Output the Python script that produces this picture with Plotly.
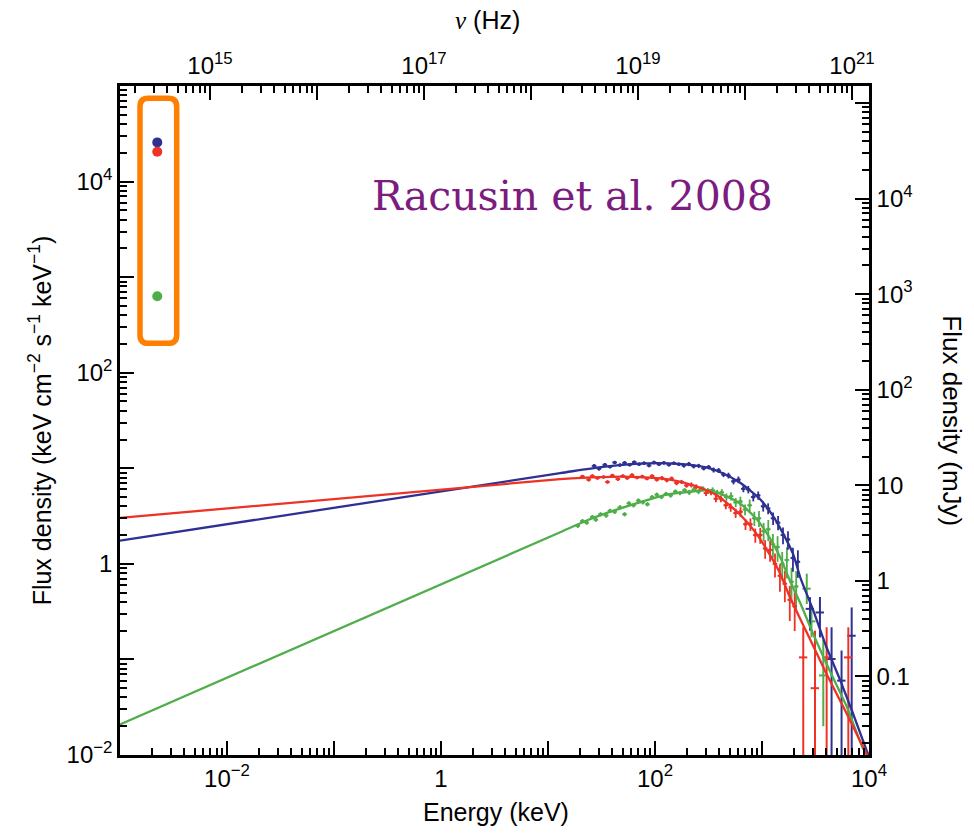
import plotly.graph_objects as go

# ---------------- data ----------------
# Model curves (Energy keV, flux density keV cm^-2 s^-1 keV^-1)
blue_model_E = [0.001, 13, 31, 72, 170, 300, 410, 620, 950, 1260, 1580, 1950, 2300, 3000, 4000, 5400, 7100, 9500, 10000]
blue_model_F = [1.75, 8.9, 10.3, 11.2, 11.1, 10.2, 9.1, 7.1, 4.8, 3.2, 2.06, 1.27, 0.70, 0.33, 0.135, 0.060, 0.027, 0.0112, 0.0098]

red_model_E = [0.001, 13, 31, 72, 138, 230, 380, 620, 890, 1170, 1480, 1820, 2630, 4000, 6200, 9500, 10000]
red_model_F = [3.03, 7.7, 8.1, 8.1, 7.6, 6.6, 5.2, 3.3, 2.06, 1.27, 0.79, 0.45, 0.19, 0.071, 0.027, 0.0102, 0.0090]

green_model_E = [0.001, 13, 23, 41, 72, 129, 230, 320, 410, 620, 890, 1170, 1480, 1820, 2300, 3000, 4300, 6200, 8700, 10000]
green_model_F = [0.0209, 2.14, 2.84, 3.6, 4.4, 5.3, 5.75, 5.9, 5.4, 4.3, 2.95, 1.9, 1.17, 0.67, 0.38, 0.186, 0.076, 0.032, 0.012, 0.0095]

# Binned data points
blue_E = [27, 30, 34, 38, 42, 47, 52, 58, 64, 71, 79, 88, 98, 109, 121, 135, 150, 167, 186, 207, 230, 256,
          285, 317, 353, 393, 437, 486, 541, 602, 670, 745, 829, 922, 1026, 1141, 1270, 1413, 1572, 1749, 1946, 2165]
blue_F = [10.6, 9.9, 10.9, 10.4, 11.5, 10.8, 11.4, 10.9, 11.6, 11.0, 11.3, 10.7, 11.5, 11.0, 11.4, 10.9, 11.3, 11.0,
          10.7, 11.1, 10.5, 10.6, 10.0, 10.3, 9.6, 9.5, 8.6, 8.4, 7.3, 7.6, 6.1, 6.0, 5.0, 5.2, 4.0, 3.8, 3.0, 2.7,
          2.0, 1.8, 1.15, 1.05]
blue_rel = [0.04, 0.04, 0.04, 0.04, 0.04, 0.04, 0.04, 0.04, 0.04, 0.04, 0.04, 0.04, 0.04, 0.04, 0.04, 0.04, 0.04, 0.04,
            0.05, 0.05, 0.05, 0.05, 0.05, 0.05, 0.06, 0.06, 0.06, 0.07, 0.07, 0.08, 0.08, 0.09, 0.10, 0.10, 0.12, 0.13,
            0.15, 0.17, 0.20, 0.22, 0.28, 0.32]

red_E = [21, 24, 26, 29, 33, 36, 40, 45, 50, 55, 61, 68, 76, 84, 94, 104, 116, 129, 143, 159, 177, 197, 219, 243,
         270, 300, 334, 371, 413, 459, 510, 567, 630, 701, 779, 866, 963, 1070, 1190, 1323, 1471, 1635, 1818, 2021]
red_F = [8.2, 7.6, 8.3, 7.9, 8.1, 7.2, 8.4, 7.7, 8.3, 7.9, 8.5, 8.0, 8.2, 7.8, 8.3, 7.6, 7.9, 7.5, 7.8, 7.0, 7.2, 6.6,
         6.7, 6.4, 6.1, 5.5, 5.6, 4.8, 4.8, 4.1, 3.9, 3.4, 3.5, 2.6, 2.6, 2.0, 2.0, 1.45, 1.4, 1.0, 0.75, 0.62, 0.42, 0.36]
red_rel = [0.04, 0.04, 0.04, 0.04, 0.04, 0.04, 0.04, 0.04, 0.04, 0.04, 0.04, 0.04, 0.04, 0.04, 0.04, 0.04, 0.05, 0.05,
           0.05, 0.05, 0.05, 0.05, 0.06, 0.06, 0.06, 0.07, 0.07, 0.08, 0.08, 0.09, 0.10, 0.11, 0.12, 0.13, 0.15, 0.17,
           0.19, 0.22, 0.25, 0.28, 0.32, 0.36, 0.40, 0.45]

green_E = [19, 21, 23, 26, 28, 31, 35, 38, 42, 47, 52, 57, 63, 70, 77, 85, 94, 104, 115, 127, 140, 155, 171, 189,
           209, 231, 255, 282, 312, 345, 381, 421, 465, 514, 568, 628, 694, 767, 848, 937, 1036, 1145, 1265, 1398,
           1545, 1708, 1888, 2087]
green_F = [2.5, 2.8, 2.7, 3.1, 2.9, 3.3, 3.2, 3.6, 3.5, 3.9, 3.3, 4.3, 4.1, 4.6, 4.4, 4.2, 5.0, 5.3, 5.0, 5.4, 5.2,
           5.7, 5.5, 5.9, 5.6, 6.0, 5.7, 6.1, 5.8, 5.9, 5.5, 5.6, 5.0, 5.1, 4.4, 4.5, 3.7, 4.1, 3.0, 3.0, 2.2, 2.3,
           1.6, 1.5, 1.0, 1.1, 0.65, 0.58]
green_rel = [0.05, 0.05, 0.05, 0.05, 0.05, 0.05, 0.05, 0.05, 0.05, 0.05, 0.05, 0.05, 0.05, 0.05, 0.05, 0.05, 0.05,
             0.05, 0.05, 0.05, 0.05, 0.05, 0.05, 0.05, 0.06, 0.06, 0.06, 0.06, 0.07, 0.07, 0.08, 0.08, 0.09, 0.10,
             0.11, 0.12, 0.13, 0.15, 0.17, 0.19, 0.22, 0.25, 0.28, 0.30, 0.33, 0.36, 0.40, 0.45]

# Sparse high-energy points: value, upper bound, lower bound
blue_hi_E = [2810, 3480, 4470, 5540, 6890]
blue_hi_F = [0.338, 0.31, 0.101, 0.060, 0.177]
blue_hi_up = [0.448, 0.45, 0.217, 0.124, 0.35]
blue_hi_lo = [0.20, 0.17, 0.004, 0.004, 0.004]

red_hi_E = [2430, 3130, 4020, 6410]
red_hi_F = [0.105, 0.05, 0.105, 0.105]
red_hi_up = [0.217, 0.20, 0.217, 0.217]
red_hi_lo = [0.004, 0.004, 0.004, 0.004]

green_hi_E = [2620, 2900, 3740]
green_hi_F = [0.55, 0.25, 0.068]
green_hi_up = [0.79, 0.35, 0.16]
green_hi_lo = [0.38, 0.17, 0.02]

# Early-time optical points (highlighted)
opt_E = [0.00223, 0.00223, 0.00223]
opt_F = [25700, 20500, 630]

# Axis tick labels
x_tickvals = [1e-3, 1e-2, 1e-1, 1, 10, 1e2, 1e3, 1e4]
x_ticktext = ['', '10<sup>−2</sup>', '', '1', '', '10<sup>2</sup>', '', '10<sup>4</sup>']
y_tickvals = [1e-2, 1e-1, 1, 10, 1e2, 1e3, 1e4, 1e5]
y_ticktext = ['10<sup>−2</sup>', '', '1', '', '10<sup>2</sup>', '', '10<sup>4</sup>', '']
nu_tickvals = [1e15, 1e16, 1e17, 1e18, 1e19, 1e20, 1e21]
nu_ticktext = ['10<sup>15</sup>', '', '10<sup>17</sup>', '', '10<sup>19</sup>', '', '10<sup>21</sup>']
mjy_tickvals = [1e-1, 1, 10, 1e2, 1e3, 1e4, 1e5]
mjy_ticktext = ['0.1', '1', '10', '10<sup>2</sup>', '10<sup>3</sup>', '10<sup>4</sup>', '']

BLUE = '#2e3192'
RED = '#ec3326'
GREEN = '#4fae4a'
FONT = 'Liberation Sans, Arial, Helvetica, sans-serif'


def minor_vals(lo, hi):
    return [float(m) * 10.0 ** k for k in range(lo, hi) for m in range(2, 10)]


fig = go.Figure()


def add_data(E, F, rel, color):
    fig.add_trace(go.Scatter(
        x=E, y=F, mode='markers', marker=dict(color=color, size=3.5),
        error_x=dict(type='percent', value=5, color=color, thickness=1.8, width=0),
        error_y=dict(type='data', array=[f * r for f, r in zip(F, rel)], color=color, thickness=1.8, width=0),
        showlegend=False, hoverinfo='skip'))


def add_sparse(E, F, up, lo, color):
    fig.add_trace(go.Scatter(
        x=E, y=F, mode='markers', marker=dict(color=color, size=2),
        error_x=dict(type='percent', value=9, color=color, thickness=2, width=0),
        error_y=dict(type='data', array=[u - f for u, f in zip(up, F)],
                     arrayminus=[f - l for f, l in zip(F, lo)], color=color, thickness=2, width=0),
        showlegend=False, hoverinfo='skip'))


add_data(green_E, green_F, green_rel, GREEN)
add_data(red_E, red_F, red_rel, RED)
add_data(blue_E, blue_F, blue_rel, BLUE)
add_sparse(green_hi_E, green_hi_F, green_hi_up, green_hi_lo, GREEN)
add_sparse(blue_hi_E, blue_hi_F, blue_hi_up, blue_hi_lo, BLUE)
add_sparse(red_hi_E, red_hi_F, red_hi_up, red_hi_lo, RED)

for E, F, c in [(green_model_E, green_model_F, GREEN), (blue_model_E, blue_model_F, BLUE),
                (red_model_E, red_model_F, RED)]:
    fig.add_trace(go.Scatter(x=E, y=F, mode='lines', line=dict(color=c, width=2.3, shape='spline', smoothing=0.6),
                             showlegend=False, hoverinfo='skip'))

fig.add_trace(go.Scatter(x=opt_E, y=opt_F, mode='markers',
                         marker=dict(color=[BLUE, RED, GREEN], size=10),
                         showlegend=False, hoverinfo='skip'))

# invisible traces to activate secondary axes
fig.add_trace(go.Scatter(x=[1e16], y=[1], xaxis='x2', yaxis='y', mode='markers',
                         marker=dict(opacity=0), showlegend=False, hoverinfo='skip'))
fig.add_trace(go.Scatter(x=[1], y=[1], xaxis='x', yaxis='y2', mode='markers',
                         marker=dict(opacity=0), showlegend=False, hoverinfo='skip'))

axis_common = dict(type='log', showgrid=False, zeroline=False, showline=True, linecolor='black', linewidth=2.5,
                   ticks='inside', ticklen=14, tickwidth=2, tickcolor='black',
                   tickfont=dict(family=FONT, size=24, color='black'))

NU_OFFSET = 17.159   # log10(nu/Hz) - log10(E/keV) as drawn
MJY_OFFSET = 0.178   # log10(mJy) - log10(keV cm-2 s-1 keV-1) as drawn

fig.update_layout(
    width=974, height=833, margin=dict(l=120, r=105, t=86, b=78),
    plot_bgcolor='white', paper_bgcolor='white',
    xaxis=dict(axis_common, range=[-3, 4], tickvals=x_tickvals, ticktext=x_ticktext,
               minor=dict(tickvals=minor_vals(-3, 4), ticks='inside', ticklen=7, tickwidth=1.5, tickcolor='black')),
    xaxis2=dict(axis_common, overlaying='x', side='top', range=[-3 + NU_OFFSET, 4 + NU_OFFSET],
                tickvals=nu_tickvals, ticktext=nu_ticktext,
                minor=dict(tickvals=minor_vals(14, 22), ticks='inside', ticklen=7, tickwidth=1.5, tickcolor='black')),
    yaxis=dict(axis_common, range=[-2, 5], tickvals=y_tickvals, ticktext=y_ticktext,
               minor=dict(tickvals=minor_vals(-2, 5), ticks='inside', ticklen=7, tickwidth=1.5, tickcolor='black')),
    yaxis2=dict(axis_common, overlaying='y', side='right', range=[-2 + MJY_OFFSET, 5 + MJY_OFFSET],
                tickvals=mjy_tickvals, ticktext=mjy_ticktext,
                minor=dict(tickvals=minor_vals(-2, 6), ticks='inside', ticklen=7, tickwidth=1.5, tickcolor='black')),
)

# rounded highlight box around the optical points (paper coordinates)
bx0, bx1, by0, by1 = 0.0267, 0.0757, 0.6154, 0.9816
rx, ry = 0.011, 0.0125
path = (f"M {bx0 + rx},{by1} L {bx1 - rx},{by1} Q {bx1},{by1} {bx1},{by1 - ry} "
        f"L {bx1},{by0 + ry} Q {bx1},{by0} {bx1 - rx},{by0} L {bx0 + rx},{by0} "
        f"Q {bx0},{by0} {bx0},{by0 + ry} L {bx0},{by1 - ry} Q {bx0},{by1} {bx0 + rx},{by1} Z")
fig.add_shape(type='path', path=path, xref='paper', yref='paper', line=dict(color='#ff7f00', width=5.5))

ann = dict(xref='paper', yref='paper', showarrow=False, xanchor='center', yanchor='middle')
fig.add_annotation(text='Racusin et al. 2008', x=0.6035, y=0.8356,
                   font=dict(family='DejaVu Serif, serif', size=41, color='#7b1c7e'), **ann)
fig.add_annotation(text='Energy (keV)', x=0.502, y=-0.085,
                   font=dict(family=FONT, size=25, color='black'), **ann)
fig.add_annotation(text='<span style="font-family:Liberation Serif, serif"><i>ν</i></span> (Hz)',
                   x=0.490, y=1.099, font=dict(family=FONT, size=25, color='black'), **ann)
fig.add_annotation(text='Flux density (keV cm<sup>−2</sup> s<sup>−1</sup> keV<sup>−1</sup>)', x=-0.107, y=0.5,
                   textangle=-90, font=dict(family=FONT, size=25, color='black'), **ann)
fig.add_annotation(text='Flux density (mJy)', x=1.111, y=0.50,
                   textangle=90, font=dict(family=FONT, size=26, color='black'), **ann)

fig.write_html('out.html')
